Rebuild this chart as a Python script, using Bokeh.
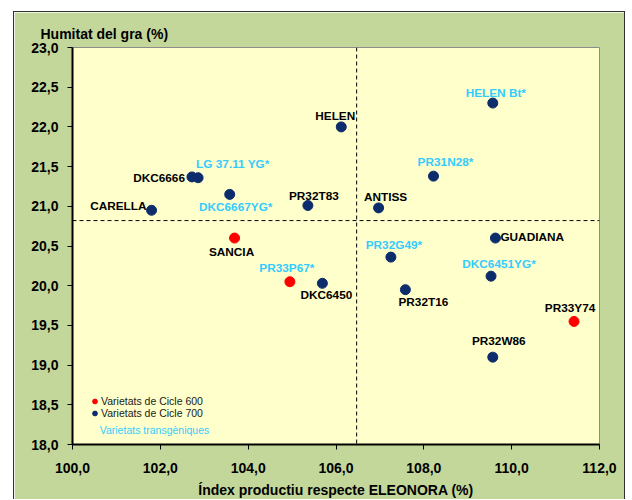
from bokeh.plotting import figure
from bokeh.models import (Span, FixedTicker, Legend, LegendItem, Label,
                          ColumnDataSource, CustomJSTickFormatter, Range1d)
from bokeh.core.properties import value
from bokeh.embed import file_html
from bokeh.resources import INLINE

# ---------------- data ----------------
varieties = ["CARELLA", "DKC6666", "LG 37.11 YG*", "DKC6667YG*", "PR32T83",
             "SANCIA", "PR33P67*", "DKC6450", "HELEN", "HELEN Bt*",
             "PR31N28*", "ANTISS", "GUADIANA", "PR32G49*", "DKC6451YG*",
             "PR32T16", "PR33Y74", "PR32W86"]
index_prod = [101.80, 102.72, 102.86, 103.58, 105.36,
              103.69, 104.95, 105.69, 106.12, 109.57,
              108.22, 106.97, 109.63, 107.25, 109.53,
              107.58, 111.42, 109.57]
humitat = [20.95, 21.37, 21.36, 21.15, 21.01,
           20.60, 20.05, 20.03, 22.00, 22.30,
           21.38, 20.98, 20.60, 20.36, 20.12,
           19.95, 19.55, 19.10]
cicle = [700, 700, 700, 700, 700,
         600, 600, 700, 700, 700,
         700, 700, 700, 700, 700,
         700, 600, 700]
transgenic = [False, False, True, True, False,
              False, True, False, False, True,
              True, False, False, True, True,
              False, False, False]
mean_index = 106.47
mean_humitat = 20.82
x_ticks = [100, 102, 104, 106, 108, 110, 112]
y_ticks = [18.0, 18.5, 19.0, 19.5, 20.0, 20.5, 21.0, 21.5, 22.0, 22.5, 23.0]

# label placement (align, dx px, dy px)
label_pos = {
    "CARELLA": ("right", -5, -4), "DKC6666": ("right", -7, 1),
    "LG 37.11 YG*": ("left", -2, -14), "DKC6667YG*": ("center", 6, 13),
    "PR32T83": ("center", 6, -10), "SANCIA": ("center", -3, 14),
    "PR33P67*": ("center", -3, -14), "DKC6450": ("center", 4, 12),
    "HELEN": ("center", -6, -11), "HELEN Bt*": ("center", 3, -10),
    "PR31N28*": ("center", 12, -14), "ANTISS": ("center", 7, -11),
    "GUADIANA": ("left", 5, -1), "PR32G49*": ("center", 3, -12),
    "DKC6451YG*": ("center", 8, -12), "PR32T16": ("center", 18, 12),
    "PR33Y74": ("center", -4, -13), "PR32W86": ("center", 6, -16),
}

RED = "#FF0000"
NAVY = "#0D2C6C"
CYAN = "#33CCFF"
FONT = "Liberation Sans"

p = figure(width=612, height=488, output_backend="svg", toolbar_location=None,
           x_range=Range1d(100, 112), y_range=Range1d(18, 23),
           min_border_left=58, min_border_right=27, min_border_top=35,
           min_border_bottom=54)
p.margin = (11, 0, 0, 13)
p.styles = {"border-top": "1px solid #303030",
            "border-left": "1px solid #303030",
            "border-right": "1px solid #303030"}
p.background_fill_color = "#FFFFCC"
p.border_fill_color = "#C4D79B"
p.outline_line_color = "#8C8C8C"
p.outline_line_width = 1
p.xgrid.visible = False
p.ygrid.visible = False

# title (y axis name)
p.title.text = "Humitat del gra (%)"
p.title.align = "left"
p.title.offset = -32
p.title.text_font = FONT
p.title.text_font_size = "14px"
p.title.text_font_style = "bold"
p.title.text_color = "#000000"
p.title.standoff = 12

fmt = CustomJSTickFormatter(code="return tick.toFixed(1).replace('.', ',');")
for ax in (p.xaxis[0], p.yaxis[0]):
    ax.formatter = fmt
    ax.axis_line_width = 2
    ax.axis_line_color = "black"
    ax.major_tick_out = 5
    ax.major_tick_in = 0
    ax.minor_tick_out = 0
    ax.minor_tick_in = 0
    ax.major_tick_line_color = "black"
    ax.major_label_text_font = FONT
    ax.major_label_text_font_size = "14px"
    ax.major_label_text_font_style = "bold"
    ax.major_label_text_color = "#000000"
p.xaxis[0].ticker = FixedTicker(ticks=x_ticks)
p.yaxis[0].ticker = FixedTicker(ticks=y_ticks)
p.yaxis[0].major_label_standoff = 9
p.xaxis[0].major_label_standoff = 13
p.xaxis[0].axis_label = "Índex productiu respecte ELEONORA (%)"
p.xaxis[0].axis_label_text_font = FONT
p.xaxis[0].axis_label_text_font_size = "14px"
p.xaxis[0].axis_label_text_font_style = "bold"
p.xaxis[0].axis_label_text_color = "#000000"
p.xaxis[0].axis_label_standoff = 6

# mean lines
p.add_layout(Span(location=mean_index, dimension="height", line_color="black",
                  line_width=1, line_dash="4 3"))
p.add_layout(Span(location=mean_humitat, dimension="width", line_color="black",
                  line_width=1, line_dash="4 3"))

# points
def sub(cond):
    idx = [i for i in range(len(varieties)) if cond(i)]
    return dict(x=[index_prod[i] for i in idx], y=[humitat[i] for i in idx],
                name=[varieties[i] for i in idx])

s600 = ColumnDataSource(sub(lambda i: cicle[i] == 600))
s700 = ColumnDataSource(sub(lambda i: cicle[i] == 700))
r700 = p.scatter("x", "y", source=s700, size=10, color=NAVY)
r600 = p.scatter("x", "y", source=s600, size=10, color=RED)

# labels
for align in ("center", "left", "right"):
    idx = [i for i, v in enumerate(varieties) if label_pos[v][0] == align]
    src = ColumnDataSource(dict(
        x=[index_prod[i] for i in idx], y=[humitat[i] for i in idx],
        name=[varieties[i] for i in idx],
        dx=[label_pos[varieties[i]][1] for i in idx],
        dy=[label_pos[varieties[i]][2] for i in idx],
        color=[CYAN if transgenic[i] else "#000000" for i in idx]))
    p.text("x", "y", text="name", source=src, x_offset="dx", y_offset="dy",
           text_align=align, text_baseline="middle", text_color="color",
           text_font=value(FONT), text_font_style="bold",
           text_font_size="11.8px")

# legend
legend = Legend(items=[LegendItem(label="Varietats de Cicle 600", renderers=[r600]),
                       LegendItem(label="Varietats de Cicle 700", renderers=[r700])],
                location=(16, 25), orientation="vertical",
                glyph_width=13, glyph_height=12, label_height=12,
                label_standoff=0, spacing=0, padding=0, margin=0,
                border_line_color=None, background_fill_alpha=0,
                label_text_font=FONT, label_text_font_size="10.5px",
                label_text_color="#1A1A1A", label_text_baseline="middle")
p.add_layout(legend, "center")
p.add_layout(Label(x=100.62, y=18.185, text="Varietats transgèniques",
                   text_color=CYAN, text_font=FONT, text_font_size="10.5px",
                   text_baseline="middle", text_align="left"))

open("out.html", "w").write(file_html(p, INLINE))
